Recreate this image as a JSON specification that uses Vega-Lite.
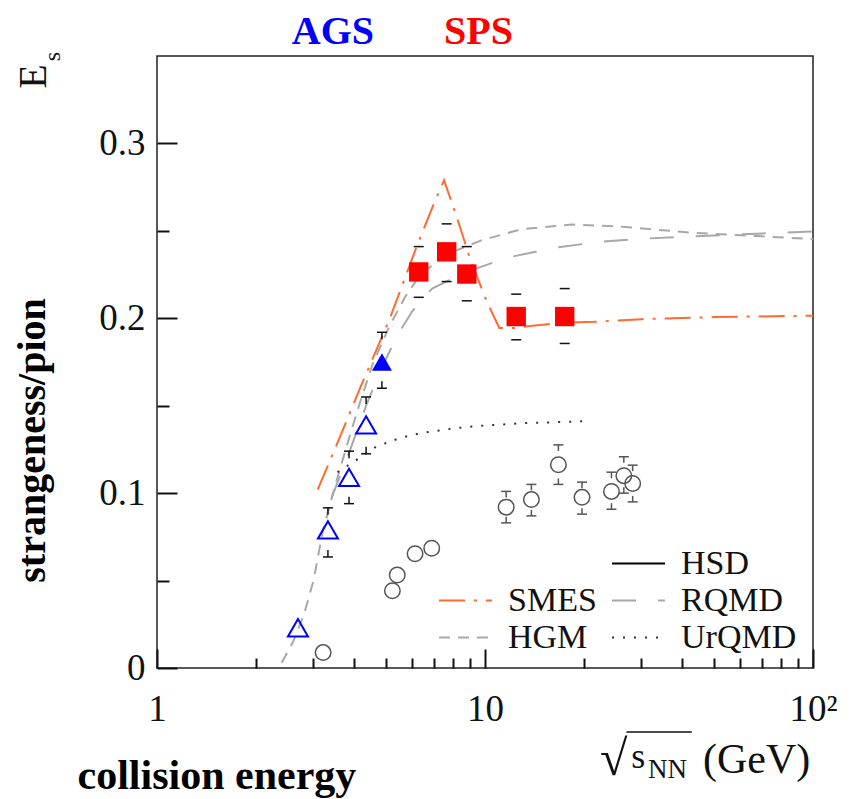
{
  "$schema": "https://vega.github.io/schema/vega-lite/v6.json",
  "width": 656,
  "height": 612,
  "autosize": {"type": "none"},
  "padding": {"left": 157, "top": 56, "right": 39, "bottom": 131},
  "background": "white",
  "config": {
    "view": {"stroke": "#222", "strokeWidth": 1.5},
    "font": "Liberation Serif",
    "legend": {
      "labelFont": "Liberation Serif", "labelFontSize": 34, "labelColor": "#111",
      "symbolType": "stroke", "symbolSize": 2809, "symbolStrokeWidth": 2,
      "labelOffset": 15, "padding": 0, "titlePadding": 0, "clipHeight": 37
    }
  },
  "datasets": {
    "curves": [
      {"m": "SMES", "x": 3.09, "y": 0.102}, {"m": "SMES", "x": 3.61, "y": 0.132}, {"m": "SMES", "x": 4.16, "y": 0.160},
      {"m": "SMES", "x": 5.13, "y": 0.200}, {"m": "SMES", "x": 6.19, "y": 0.241}, {"m": "SMES", "x": 7.0, "y": 0.266},
      {"m": "SMES", "x": 7.5, "y": 0.279}, {"m": "SMES", "x": 8.2, "y": 0.258}, {"m": "SMES", "x": 9.04, "y": 0.233},
      {"m": "SMES", "x": 10.18, "y": 0.2086}, {"m": "SMES", "x": 11.06, "y": 0.1945}, {"m": "SMES", "x": 12.45, "y": 0.1945},
      {"m": "SMES", "x": 14, "y": 0.1958}, {"m": "SMES", "x": 17.5, "y": 0.1975}, {"m": "SMES", "x": 21.5, "y": 0.198},
      {"m": "SMES", "x": 30, "y": 0.1995}, {"m": "SMES", "x": 50, "y": 0.2007}, {"m": "SMES", "x": 100, "y": 0.2015},
      {"m": "HGM", "x": 2.4, "y": 0.003}, {"m": "HGM", "x": 2.6, "y": 0.015}, {"m": "HGM", "x": 2.8, "y": 0.03},
      {"m": "HGM", "x": 3.0, "y": 0.05}, {"m": "HGM", "x": 3.2, "y": 0.078}, {"m": "HGM", "x": 3.5, "y": 0.105},
      {"m": "HGM", "x": 3.83, "y": 0.130}, {"m": "HGM", "x": 4.16, "y": 0.152}, {"m": "HGM", "x": 4.56, "y": 0.1746},
      {"m": "HGM", "x": 5.13, "y": 0.196}, {"m": "HGM", "x": 5.7, "y": 0.212}, {"m": "HGM", "x": 6.3, "y": 0.224},
      {"m": "HGM", "x": 7.5, "y": 0.236}, {"m": "HGM", "x": 9.7, "y": 0.2444}, {"m": "HGM", "x": 12.9, "y": 0.251},
      {"m": "HGM", "x": 18.4, "y": 0.2536}, {"m": "HGM", "x": 26.2, "y": 0.2524}, {"m": "HGM", "x": 42.1, "y": 0.249},
      {"m": "HGM", "x": 67.8, "y": 0.247}, {"m": "HGM", "x": 100, "y": 0.2453},
      {"m": "RQMD", "x": 3.4, "y": 0.097}, {"m": "RQMD", "x": 3.85, "y": 0.123}, {"m": "RQMD", "x": 4.34, "y": 0.150},
      {"m": "RQMD", "x": 4.85, "y": 0.172}, {"m": "RQMD", "x": 5.4, "y": 0.19}, {"m": "RQMD", "x": 6.0, "y": 0.204},
      {"m": "RQMD", "x": 6.9, "y": 0.217}, {"m": "RQMD", "x": 8.64, "y": 0.226}, {"m": "RQMD", "x": 11.7, "y": 0.2347},
      {"m": "RQMD", "x": 16.3, "y": 0.2404}, {"m": "RQMD", "x": 22.8, "y": 0.2439}, {"m": "RQMD", "x": 31.8, "y": 0.2457},
      {"m": "RQMD", "x": 53.4, "y": 0.2476}, {"m": "RQMD", "x": 100, "y": 0.2497},
      {"m": "UrQMD", "x": 3.55, "y": 0.112}, {"m": "UrQMD", "x": 4.06, "y": 0.119}, {"m": "UrQMD", "x": 4.67, "y": 0.1267},
      {"m": "UrQMD", "x": 5.5, "y": 0.1315}, {"m": "UrQMD", "x": 6.34, "y": 0.1343}, {"m": "UrQMD", "x": 8.0, "y": 0.137},
      {"m": "UrQMD", "x": 9.66, "y": 0.1385}, {"m": "UrQMD", "x": 13, "y": 0.140}, {"m": "UrQMD", "x": 19.5, "y": 0.141},
      {"m": "UrQMD", "x": 21, "y": 0.142}
    ],
    "ags": [
      {"x": 2.69, "y": 0.023, "lo": null, "hi": null, "filled": false},
      {"x": 3.32, "y": 0.079, "lo": 0.0635, "hi": 0.0916, "filled": false},
      {"x": 3.85, "y": 0.109, "lo": 0.094, "hi": 0.124, "filled": false},
      {"x": 4.34, "y": 0.139, "lo": 0.1225, "hi": 0.155, "filled": false},
      {"x": 4.85, "y": 0.175, "lo": 0.160, "hi": 0.192, "filled": true}
    ],
    "sps": [
      {"x": 6.28, "y": 0.2265, "lo": 0.212, "hi": 0.241},
      {"x": 7.64, "y": 0.238, "lo": 0.221, "hi": 0.254},
      {"x": 8.80, "y": 0.2253, "lo": 0.210, "hi": 0.241},
      {"x": 12.45, "y": 0.201, "lo": 0.1877, "hi": 0.2138},
      {"x": 17.5, "y": 0.201, "lo": 0.1856, "hi": 0.217}
    ],
    "other": [
      {"x": 3.21, "y": 0.0088, "lo": null, "hi": null},
      {"x": 5.22, "y": 0.0442, "lo": null, "hi": null},
      {"x": 5.40, "y": 0.0532, "lo": null, "hi": null},
      {"x": 6.12, "y": 0.0653, "lo": null, "hi": null},
      {"x": 6.88, "y": 0.0685, "lo": null, "hi": null},
      {"x": 11.6, "y": 0.092, "lo": 0.083, "hi": 0.101},
      {"x": 13.85, "y": 0.0963, "lo": 0.087, "hi": 0.105},
      {"x": 16.74, "y": 0.1162, "lo": 0.105, "hi": 0.1276},
      {"x": 19.76, "y": 0.0976, "lo": 0.088, "hi": 0.1063},
      {"x": 24.3, "y": 0.101, "lo": 0.0908, "hi": 0.112},
      {"x": 26.5, "y": 0.110, "lo": 0.100, "hi": 0.1208},
      {"x": 28.2, "y": 0.1055, "lo": 0.095, "hi": 0.116}
    ]
  },
  "resolve": {"axis": {"x": "independent", "y": "independent"}},
  "layer": [
    {
      "data": {"name": "curves"},
      "mark": {"type": "line", "strokeWidth": 2},
      "encoding": {
        "x": {"field": "x", "type": "quantitative",
          "scale": {"type": "log", "domain": [1, 100]},
          "axis": {"orient": "bottom", "values": [1, 10, 100], "tickSize": -19, "tickWidth": 2, "tickColor": "#111", "ticks": true,
            "domain": false, "grid": false, "labelFont": "Liberation Serif", "labelFontSize": 37, "labelColor": "#111",
            "labelBaseline": "alphabetic", "labelPadding": 71, "labelFlush": false, "labelOverlap": false,
            "labelExpr": "datum.value == 100 ? '10²' : datum.label",
            "title": "collision energy", "titleFont": "Liberation Serif", "titleFontWeight": "bold", "titleFontSize": 42,
            "titleColor": "#000", "titleX": -80, "titleY": 120, "titleAlign": "left", "titleBaseline": "alphabetic"}},
        "y": {"field": "y", "type": "quantitative",
          "scale": {"domain": [0, 0.35], "nice": false, "zero": false},
          "axis": {"orient": "left", "values": [0, 0.1, 0.2, 0.3], "tickSize": -20, "tickWidth": 2, "tickColor": "#111", "ticks": true,
            "domain": false, "grid": false, "labelFont": "Liberation Serif", "labelFontSize": 37, "labelColor": "#111",
            "labelPadding": 32, "labelFlush": false, "labelOverlap": false, "format": "~g",
            "title": "strangeness/pion", "titleFont": "Liberation Serif", "titleFontWeight": "bold", "titleFontSize": 40,
            "titleColor": "#000", "titleX": -113, "titleY": 384, "titleAngle": 270, "titleAlign": "center", "titleBaseline": "alphabetic"}},
        "color": {"field": "m", "type": "nominal",
          "scale": {"domain": ["", "SMES", "HGM", "HSD", "RQMD", "UrQMD"],
                    "range": ["transparent", "#ff6a30", "#a8a8a8", "#000000", "#a8a8a8", "#333333"]},
          "legend": {"orient": "none", "legendX": 281, "legendY": 489, "direction": "vertical", "columns": 2,
                     "columnPadding": 14, "rowPadding": 0, "title": null}},
        "strokeDash": {"field": "m", "type": "nominal",
          "scale": {"domain": ["", "SMES", "HGM", "HSD", "RQMD", "UrQMD"],
                    "range": [[1, 0], [26, 9, 3, 9], [11, 8], [1, 0], [24, 22], [2, 9]]},
          "legend": {"orient": "none", "legendX": 281, "legendY": 489, "direction": "vertical", "columns": 2,
                     "columnPadding": 14, "rowPadding": 0, "title": null}}
      }
    },
    {
      "data": {"name": "other"},
      "transform": [{"filter": "datum.hi != null"}],
      "encoding": {
        "x": {"field": "x", "type": "quantitative", "scale": {"type": "log", "domain": [1, 100]}, "axis": null}
      },
      "layer": [
        {"mark": {"type": "tick", "orient": "horizontal", "size": 10, "thickness": 1.5, "color": "#555", "opacity": 1},
         "encoding": {"y": {"field": "hi", "type": "quantitative", "axis": null}}},
        {"mark": {"type": "tick", "orient": "horizontal", "size": 10, "thickness": 1.5, "color": "#555", "opacity": 1},
         "encoding": {"y": {"field": "lo", "type": "quantitative", "axis": null}}},
        {"mark": {"type": "rule", "color": "#555", "strokeWidth": 1.5, "y2Offset": 6},
         "encoding": {"y": {"field": "hi", "type": "quantitative", "axis": null}, "y2": {"field": "hi"}}},
        {"mark": {"type": "rule", "color": "#555", "strokeWidth": 1.5, "y2Offset": -6},
         "encoding": {"y": {"field": "lo", "type": "quantitative", "axis": null}, "y2": {"field": "lo"}}}
      ]
    },
    {
      "data": {"name": "ags"},
      "transform": [{"filter": "datum.hi != null"}],
      "encoding": {
        "x": {"field": "x", "type": "quantitative", "scale": {"type": "log", "domain": [1, 100]}, "axis": null}
      },
      "layer": [
        {"mark": {"type": "tick", "orient": "horizontal", "size": 10, "thickness": 1.5, "color": "#111", "opacity": 1},
         "encoding": {"y": {"field": "hi", "type": "quantitative", "axis": null}}},
        {"mark": {"type": "tick", "orient": "horizontal", "size": 10, "thickness": 1.5, "color": "#111", "opacity": 1},
         "encoding": {"y": {"field": "lo", "type": "quantitative", "axis": null}}},
        {"mark": {"type": "rule", "color": "#111", "strokeWidth": 1.5, "y2Offset": 7},
         "encoding": {"y": {"field": "hi", "type": "quantitative", "axis": null}, "y2": {"field": "hi"}}},
        {"mark": {"type": "rule", "color": "#111", "strokeWidth": 1.5, "y2Offset": -7},
         "encoding": {"y": {"field": "lo", "type": "quantitative", "axis": null}, "y2": {"field": "lo"}}}
      ]
    },
    {
      "data": {"name": "sps"},
      "encoding": {
        "x": {"field": "x", "type": "quantitative", "scale": {"type": "log", "domain": [1, 100]}, "axis": null}
      },
      "layer": [
        {"mark": {"type": "tick", "orient": "horizontal", "size": 10, "thickness": 1.5, "color": "#111", "opacity": 1},
         "encoding": {"y": {"field": "hi", "type": "quantitative", "axis": null}}},
        {"mark": {"type": "tick", "orient": "horizontal", "size": 10, "thickness": 1.5, "color": "#111", "opacity": 1},
         "encoding": {"y": {"field": "lo", "type": "quantitative", "axis": null}}},
        {"mark": {"type": "square", "size": 375, "color": "#ff0000", "opacity": 1},
         "encoding": {"y": {"field": "y", "type": "quantitative", "axis": null}}}
      ]
    },
    {
      "data": {"name": "other"},
      "mark": {"type": "point", "shape": "circle", "size": 240, "filled": false, "stroke": "#555", "strokeWidth": 1.5, "opacity": 1},
      "encoding": {
        "x": {"field": "x", "type": "quantitative", "scale": {"type": "log", "domain": [1, 100]},
          "axis": {"orient": "bottom", "values": [2, 3, 4, 5, 6, 7, 8, 9, 20, 30, 40, 50, 60, 70, 80, 90], "tickSize": -10, "ticks": true,
            "tickWidth": 2, "tickColor": "#111", "domain": false, "grid": false, "labels": false, "title": null}},
        "y": {"field": "y", "type": "quantitative", "scale": {"domain": [0, 0.35], "nice": false, "zero": false},
          "axis": {"orient": "left", "values": [0.05, 0.15, 0.25], "tickSize": -12, "tickWidth": 2, "tickColor": "#111", "ticks": true,
            "domain": false, "grid": false, "labels": false, "title": null}}
      }
    },
    {
      "data": {"name": "ags"},
      "encoding": {
        "x": {"field": "x", "type": "quantitative", "scale": {"type": "log", "domain": [1, 100]}, "axis": null},
        "y": {"field": "y", "type": "quantitative", "axis": null}
      },
      "layer": [
        {"transform": [{"filter": "!datum.filled"}],
         "mark": {"type": "point", "shape": "triangle-up", "size": 400, "filled": false, "stroke": "#0000ff", "strokeWidth": 2, "opacity": 1}},
        {"transform": [{"filter": "datum.filled"}],
         "mark": {"type": "point", "shape": "triangle-up", "size": 400, "filled": true, "fill": "#0000ff", "opacity": 1}}
      ]
    },
    {
      "data": {"values": [{}]},
      "layer": [
        {"mark": {"type": "text", "text": "AGS", "font": "Liberation Serif", "fontWeight": "bold", "fontSize": 40, "color": "#0000ff", "align": "center", "baseline": "alphabetic"},
         "encoding": {"x": {"datum": 3.44, "type": "quantitative", "scale": {"type": "log", "domain": [1, 100]}, "axis": null},
                      "y": {"datum": 0.3566, "type": "quantitative", "axis": null}}},
        {"mark": {"type": "text", "text": "SPS", "font": "Liberation Serif", "fontWeight": "bold", "fontSize": 40, "color": "#ff0000", "align": "center", "baseline": "alphabetic"},
         "encoding": {"x": {"datum": 9.55, "type": "quantitative", "axis": null},
                      "y": {"datum": 0.3566, "type": "quantitative", "axis": null}}},
        {"mark": {"type": "text", "text": "E", "font": "Liberation Serif", "fontSize": 40, "color": "#111", "align": "center", "baseline": "alphabetic", "angle": 270},
         "encoding": {"x": {"datum": 0.4588, "type": "quantitative", "axis": null},
                      "y": {"datum": 0.3383, "type": "quantitative", "axis": null}}},
        {"mark": {"type": "text", "text": "s", "font": "Liberation Serif", "fontSize": 24, "color": "#111", "align": "center", "baseline": "alphabetic", "angle": 270},
         "encoding": {"x": {"datum": 0.506, "type": "quantitative", "axis": null},
                      "y": {"datum": 0.3497, "type": "quantitative", "axis": null}}},
        {"mark": {"type": "text", "text": "√", "font": "Liberation Serif", "fontSize": 50, "color": "#111", "align": "center", "baseline": "alphabetic"},
         "encoding": {"x": {"datum": 24.7, "type": "quantitative", "axis": null},
                      "y": {"datum": -0.0612, "type": "quantitative", "axis": null}}},
        {"mark": {"type": "rule", "color": "#111", "strokeWidth": 1.5},
         "encoding": {"x": {"datum": 27.0, "type": "quantitative", "axis": null}, "x2": {"datum": 42.7},
                      "y": {"datum": -0.0366, "type": "quantitative", "axis": null}}},
        {"mark": {"type": "text", "text": "s", "font": "Liberation Serif", "fontSize": 36, "color": "#111", "align": "left", "baseline": "alphabetic"},
         "encoding": {"x": {"datum": 27.9, "type": "quantitative", "axis": null},
                      "y": {"datum": -0.0572, "type": "quantitative", "axis": null}}},
        {"mark": {"type": "text", "text": "NN", "font": "Liberation Serif", "fontSize": 27, "color": "#111", "align": "left", "baseline": "alphabetic"},
         "encoding": {"x": {"datum": 31.4, "type": "quantitative", "axis": null},
                      "y": {"datum": -0.063, "type": "quantitative", "axis": null}}},
        {"mark": {"type": "text", "text": "(GeV)", "font": "Liberation Serif", "fontSize": 42, "color": "#111", "align": "left", "baseline": "alphabetic"},
         "encoding": {"x": {"datum": 46.2, "type": "quantitative", "axis": null},
                      "y": {"datum": -0.0601, "type": "quantitative", "axis": null}}}
      ]
    }
  ]
}
